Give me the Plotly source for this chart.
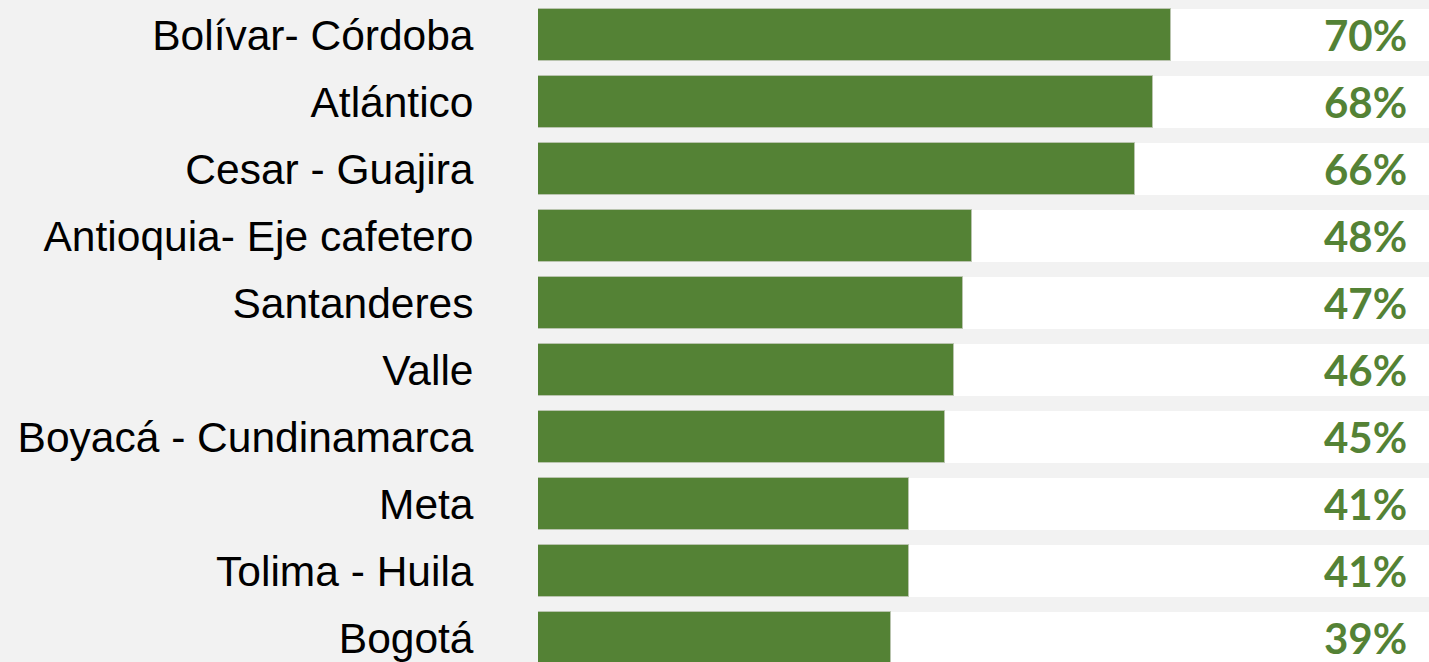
import plotly.graph_objects as go

categories = ["Bolívar- Córdoba", "Atlántico", "Cesar - Guajira", "Antioquia- Eje cafetero",
              "Santanderes", "Valle", "Boyacá - Cundinamarca", "Meta", "Tolima - Huila", "Bogotá"]
values = [0.70, 0.68, 0.66, 0.48, 0.47, 0.46, 0.45, 0.41, 0.41, 0.39]
labels = ["70%", "68%", "66%", "48%", "47%", "46%", "45%", "41%", "41%", "39%"]
full = [1.0] * len(categories)

GREEN = "#548235"
pos = list(range(len(categories)))

fig = go.Figure()
fig.add_trace(go.Bar(
    y=pos, x=full, orientation="h", width=0.765,
    marker=dict(color="white", line=dict(width=0)),
    hoverinfo="skip", showlegend=False,
))
fig.add_trace(go.Bar(
    y=pos, x=values, orientation="h", width=0.765,
    marker=dict(color=GREEN, line=dict(width=1, color="#b9c4ae")),
    showlegend=False,
))

for p, lab in zip(pos, labels):
    fig.add_annotation(
        x=0.963, y=p, xref="x", yref="y", text=lab, showarrow=False,
        xanchor="right", yanchor="middle",
        font=dict(family="Lato", size=42, color=GREEN, weight="bold"),
    )

fig.update_layout(
    width=1429, height=662,
    margin=dict(l=538, r=0, t=0, b=0),
    paper_bgcolor="#f2f2f2", plot_bgcolor="#f2f2f2",
    barmode="overlay", bargap=0,
    xaxis=dict(range=[0, 0.9856], visible=False, fixedrange=True),
    yaxis=dict(
        range=[9.36, -0.521], tickmode="array", tickvals=pos, ticktext=categories,
        ticks="outside", ticklen=55, tickcolor="rgba(0,0,0,0)",
        ticklabeloverflow="allow",
        showgrid=False, zeroline=False, showline=False,
        tickfont=dict(family="Liberation Sans", size=42.5, color="black"),
    ),
)

fig.write_html("out.html",
               config={"displayModeBar": False},
               post_script="document.body.style.margin='0';document.body.style.overflow='hidden';")
